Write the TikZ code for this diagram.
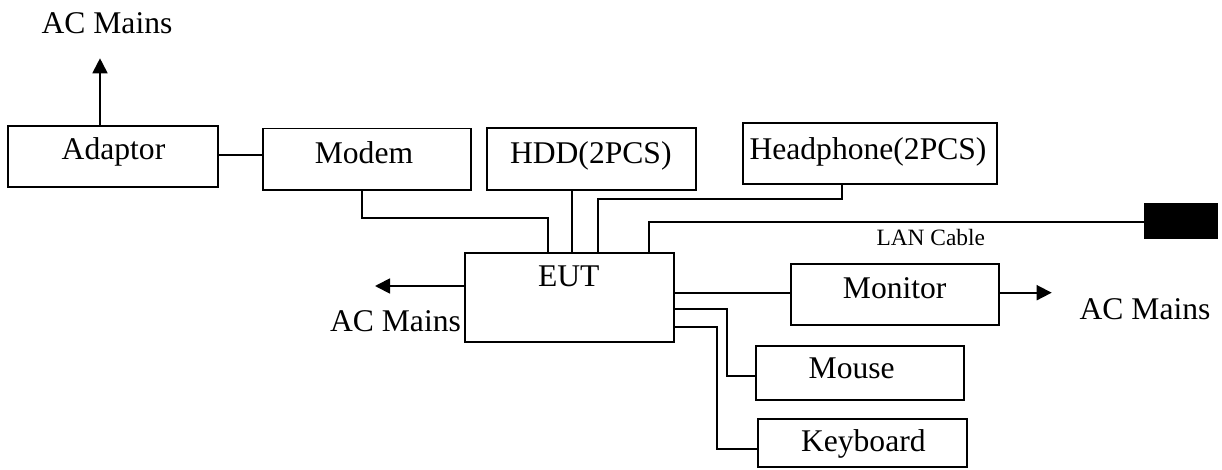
\documentclass[tikz,border=0pt]{standalone}
\usepackage{fontspec}
\setmainfont{Liberation Serif}
\usetikzlibrary{arrows.meta}
\begin{document}
\begin{tikzpicture}[x=1pt,y=-1pt,
  boxst/.style={draw=black,line width=1.8pt,rectangle,inner sep=0pt},
  txt/.style={anchor=base,inner sep=0pt,font=\fontsize{31.6pt}{36pt}\selectfont},
  smalltxt/.style={anchor=base,inner sep=0pt,font=\fontsize{23.4pt}{27pt}\selectfont},
  wire/.style={line width=1.8pt,line cap=rect},
  arrowline/.style={line width=1.8pt,-{Triangle[length=15pt,width=15pt]}}]
\useasboundingbox (0,0) rectangle (1222,470);
% boxes
\node[boxst,minimum width=210pt,minimum height=61pt] (adaptor) at (113.3,156.7) {};
\node[boxst,minimum width=208pt,minimum height=61.5pt] (modem) at (367,159.2) {};
\node[boxst,minimum width=209pt,minimum height=61.7pt] (hdd) at (591.5,159.2) {};
\node[boxst,minimum width=254pt,minimum height=60.7pt] (head) at (870,153.7) {};
\node[boxst,minimum width=209pt,minimum height=89pt] (eut) at (569.5,297.2) {};
\node[boxst,minimum width=208pt,minimum height=61pt] (mon) at (895,294.5) {};
\node[boxst,minimum width=208.3pt,minimum height=54pt] (mouse) at (860.2,373) {};
\node[boxst,minimum width=208.4pt,minimum height=47.7pt] (kbd) at (862.5,443.2) {};
\node[fill=black,draw=none,inner sep=0pt,minimum width=74pt,minimum height=36.3pt] (lan) at (1181.3,220.9) {};
% texts
\node[txt] (acTop) at (107,34) {AC Mains};
\node[txt] (tAdaptor) at (113.5,160) {Adaptor};
\node[txt] (tModem) at (364,163.3) {Modem};
\node[txt] (tHdd) at (590.8,163.3) {HDD(2PCS)};
\node[txt] (tHead) at (868,160) {Headphone(2PCS)};
\node[txt] (tEut) at (568.8,286.7) {EUT};
\node[txt] (acLeft) at (395.5,331.7) {AC Mains};
\node[smalltxt] (tLan) at (930.8,245) {LAN Cable};
\node[txt] (tMon) at (894.7,298.3) {Monitor};
\node[txt] (acRight) at (1145,319) {AC Mains};
\node[txt] (tMouse) at (851.7,378.3) {Mouse};
\node[txt] (tKbd) at (863.3,451.7) {Keyboard};
% coordinates
\coordinate (a1) at (100,58.3);
\coordinate (am) at (0,155);
\coordinate (m1) at (361.7,218.3);
\coordinate (m2) at (548.3,218.3);
\coordinate (h1) at (572.3,0);
\coordinate (p1) at (598.3,199.3);
\coordinate (p2) at (842.3,199.3);
\coordinate (l1) at (649.3,221.7);
\coordinate (e1) at (375,286);
\coordinate (n1) at (0,292.7);
\coordinate (n2) at (1051.7,292.7);
\coordinate (u1) at (727.3,309);
\coordinate (u2) at (727.3,376);
\coordinate (k1) at (716.7,327.3);
\coordinate (k2) at (716.7,449.3);
% connectors
\draw[arrowline] (a1 |- adaptor.north) -- (a1);
\draw[wire] (adaptor.east |- am) -- (modem.west |- am);
\draw[wire] (m1 |- modem.south) -- (m1) -- (m2) -- (m2 |- eut.north);
\draw[wire] (h1 |- hdd.south) -- (h1 |- eut.north);
\draw[wire] (p1 |- eut.north) -- (p1) -- (p2) -- (p2 |- head.south);
\draw[wire] (l1 |- eut.north) -- (l1) -- (l1 -| lan.west);
\draw[arrowline] (eut.west |- e1) -- (e1);
\draw[wire] (eut.east |- n1) -- (mon.west |- n1);
\draw[arrowline] (mon.east |- n1) -- (n2);
\draw[wire] (eut.east |- u1) -- (u1) -- (u2) -- (u2 -| mouse.west);
\draw[wire] (eut.east |- k1) -- (k1) -- (k2) -- (k2 -| kbd.west);
\end{tikzpicture}
\end{document}
